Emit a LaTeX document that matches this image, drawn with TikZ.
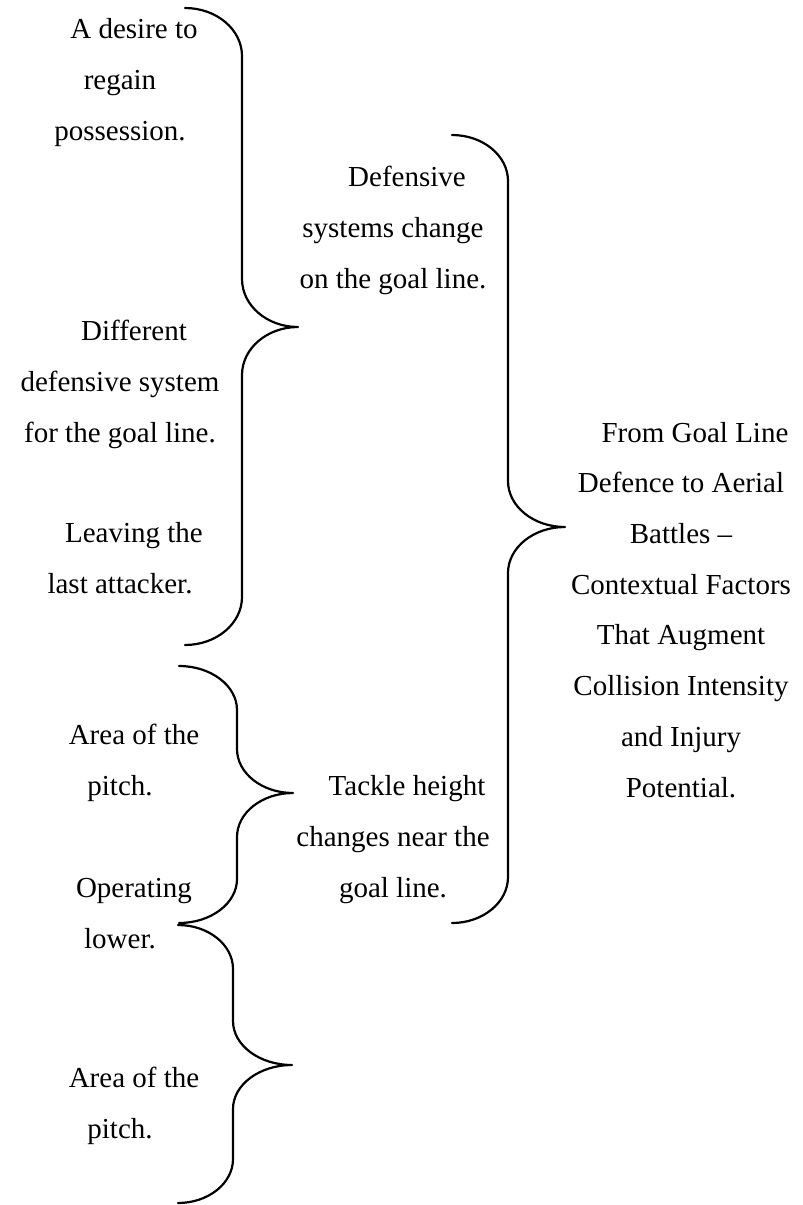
\documentclass[tikz,border=0pt]{standalone}
\usepackage{fontspec}
\setmainfont{Liberation Serif}
\begin{document}
\begin{tikzpicture}[x=1pt,y=-1pt,
  txt/.style={align=center, anchor=base, inner sep=0pt,
    font=\fontsize{29}{50.7}\selectfont},
  bracestroke/.style={line width=2.2pt, line cap=round, line join=round}]
\useasboundingbox (0,0) rectangle (803,1205);

% curly brace opening to the left, tip pointing right
% #1 end x, #2 stem x, #3 tip x, #4 top y, #5 tip y, #6 bottom y, #7 curve depth
\newcommand\drawbrace[7]{%
  \draw[bracestroke]
    (#1,#4) .. controls ({#1+0.5523*(#2-#1)},#4) and (#2,{#4+0.4477*#7}) .. (#2,{#4+#7})
    -- (#2,{#5-#7})
    .. controls (#2,{#5-0.4477*#7}) and ({#2+0.4477*(#3-#2)},#5) .. (#3,#5)
    .. controls ({#2+0.4477*(#3-#2)},#5) and (#2,{#5+0.4477*#7}) .. (#2,{#5+#7})
    -- (#2,{#6-#7})
    .. controls (#2,{#6-0.4477*#7}) and ({#1+0.5523*(#2-#1)},#6) .. (#1,#6);
}

% left column (positions give the baseline of each block's last line)
\node[txt] (desire) at (120,140) {\hspace*{28pt}A desire to\\regain\\possession.};
\node[txt] (different) at (120,442) {\hspace*{28pt}Different\\defensive system\\for the goal line.};
\node[txt] (leaving) at (120,593) {\hspace*{28pt}Leaving the\\last attacker.};
\node[txt] (area1) at (120,795) {\hspace*{28pt}Area of the\\pitch.};
\node[txt] (operating) at (120,948) {\hspace*{28pt}Operating\\lower.};
\node[txt] (area2) at (120,1138) {\hspace*{28pt}Area of the\\pitch.};

% middle column
\node[txt] (systems) at (393,288) {\hspace*{28pt}Defensive\\systems change\\on the goal line.};
\node[txt] (tackle) at (393,897) {\hspace*{28pt}Tackle height\\changes near the\\goal line.};

% right column
\node[txt] (topic) at (681,797) {\hspace*{28pt}From Goal Line\\Defence to Aerial\\Battles --\\Contextual Factors\\That Augment\\Collision Intensity\\and Injury\\Potential.};

% braces
\drawbrace{185}{242}{298}{8}{327}{645}{48}
\drawbrace{179}{237}{293}{666}{793}{923}{44}
\drawbrace{178}{233}{292}{925}{1065}{1203}{44}
\drawbrace{452}{508}{565}{135}{527}{923}{46}
\end{tikzpicture}
\end{document}
